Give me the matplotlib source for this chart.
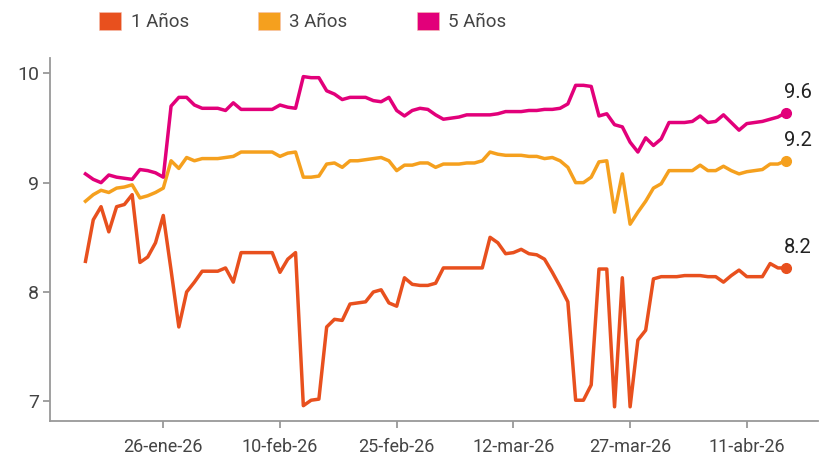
import pandas as pd
import matplotlib.pyplot as plt
from matplotlib.patches import Patch

# datos diarios, 16-ene-26 a 16-abr-26
fechas = pd.date_range('2026-01-16', periods=91, freq='D')

anio1 = [8.28, 8.66, 8.78, 8.55, 8.78, 8.80, 8.89, 8.27, 8.32, 8.45,
         8.70, 8.20, 7.68, 8.00, 8.09, 8.19, 8.19, 8.19, 8.22, 8.09,
         8.36, 8.36, 8.36, 8.36, 8.36, 8.18, 8.30, 8.36, 6.96, 7.01,
         7.02, 7.68, 7.75, 7.74, 7.89, 7.90, 7.91, 8.00, 8.02, 7.90,
         7.87, 8.13, 8.07, 8.06, 8.06, 8.08, 8.22, 8.22, 8.22, 8.22,
         8.22, 8.22, 8.50, 8.45, 8.35, 8.36, 8.39, 8.35, 8.34, 8.30,
         8.18, 8.05, 7.91, 7.01, 7.01, 7.15, 8.21, 8.21, 6.95, 8.13,
         6.95, 7.56, 7.65, 8.12, 8.14, 8.14, 8.14, 8.15, 8.15, 8.15,
         8.14, 8.14, 8.09, 8.15, 8.20, 8.14, 8.14, 8.14, 8.26, 8.22,
         8.22]

anio3 = [8.83, 8.89, 8.93, 8.91, 8.95, 8.96, 8.98, 8.86, 8.88, 8.91,
         8.95, 9.20, 9.13, 9.23, 9.20, 9.22, 9.22, 9.22, 9.23, 9.24,
         9.28, 9.28, 9.28, 9.28, 9.28, 9.24, 9.27, 9.28, 9.05, 9.05,
         9.06, 9.17, 9.18, 9.14, 9.20, 9.20, 9.21, 9.22, 9.23, 9.20,
         9.11, 9.16, 9.16, 9.18, 9.18, 9.14, 9.17, 9.17, 9.17, 9.18,
         9.18, 9.20, 9.28, 9.26, 9.25, 9.25, 9.25, 9.24, 9.24, 9.22,
         9.23, 9.20, 9.14, 9.00, 9.00, 9.05, 9.19, 9.20, 8.73, 9.08,
         8.62, 8.73, 8.83, 8.95, 8.99, 9.11, 9.11, 9.11, 9.11, 9.16,
         9.11, 9.11, 9.15, 9.11, 9.08, 9.10, 9.11, 9.12, 9.17, 9.17,
         9.20]

anio5 = [9.08, 9.03, 9.00, 9.07, 9.05, 9.04, 9.03, 9.12, 9.11, 9.09,
         9.05, 9.70, 9.78, 9.78, 9.71, 9.68, 9.68, 9.68, 9.66, 9.73,
         9.67, 9.67, 9.67, 9.67, 9.67, 9.71, 9.69, 9.68, 9.97, 9.96,
         9.96, 9.84, 9.81, 9.76, 9.78, 9.78, 9.78, 9.75, 9.74, 9.78,
         9.66, 9.61, 9.66, 9.68, 9.67, 9.62, 9.58, 9.59, 9.60, 9.62,
         9.62, 9.62, 9.62, 9.63, 9.65, 9.65, 9.65, 9.66, 9.66, 9.67,
         9.67, 9.68, 9.72, 9.89, 9.89, 9.88, 9.61, 9.63, 9.53, 9.51,
         9.37, 9.28, 9.41, 9.34, 9.40, 9.55, 9.55, 9.55, 9.56, 9.61,
         9.55, 9.56, 9.62, 9.55, 9.48, 9.54, 9.55, 9.56, 9.58, 9.60,
         9.64]

series = ['1 Años', '3 Años', '5 Años']
colores = ['#E8501E', '#F5A01E', '#E2007A']
ticks_fechas = pd.to_datetime(['2026-01-26', '2026-02-10', '2026-02-25',
                               '2026-03-12', '2026-03-27', '2026-04-11'])
ticks_texto = ['26-ene-26', '10-feb-26', '25-feb-26', '12-mar-26', '27-mar-26', '11-abr-26']

plt.rcParams['font.family'] = ['Roboto', 'DejaVu Sans']

fig = plt.figure(figsize=(8.2, 4.57), dpi=100)
ax = fig.add_axes([50 / 820, 36 / 457, 768 / 820, 363 / 457])

for nombre, valores, color in zip(series, [anio1, anio3, anio5], colores):
    ax.plot(fechas, valores, color=color, lw=2.5, solid_joinstyle='round')
    ax.plot(fechas[-1], valores[-1], 'o', color=color, ms=7)
    ax.annotate(f'{valores[-1]:.1f}', (fechas[-1], valores[-1]),
                xytext=(-1, 8), textcoords='offset points',
                ha='left', va='bottom', fontsize=14.5, color='#222222')

ax.set_xlim(fechas[0] - pd.Timedelta(days=4.56), fechas[0] + pd.Timedelta(days=94.15))
ax.set_ylim(6.82, 10.14)
ax.set_yticks([7, 8, 9, 10])
ax.set_xticks(ticks_fechas)
ax.set_xticklabels(ticks_texto)

for s in ['top', 'right']:
    ax.spines[s].set_visible(False)
for s in ['left', 'bottom']:
    ax.spines[s].set_color('#999999')
    ax.spines[s].set_linewidth(1.3)
ax.tick_params(colors='#999999', labelcolor='#444444', length=5, width=1.3)
ax.tick_params(axis='x', labelsize=13, pad=7)
ax.tick_params(axis='y', labelsize=14, pad=3)

handles = [Patch(facecolor=c, edgecolor='#f6c0b0', linewidth=0.4, label=n)
           for n, c in zip(series, colores)]
fig.legend(handles=handles, loc='center left', bbox_to_anchor=(0.121, 0.953),
           ncol=3, frameon=False, fontsize=13.5, labelcolor='#444444',
           handlelength=1.17, handleheight=1.12, handletextpad=0.5, columnspacing=3.7,
           borderpad=0, borderaxespad=0)

fig.savefig('out.png', dpi=100)
